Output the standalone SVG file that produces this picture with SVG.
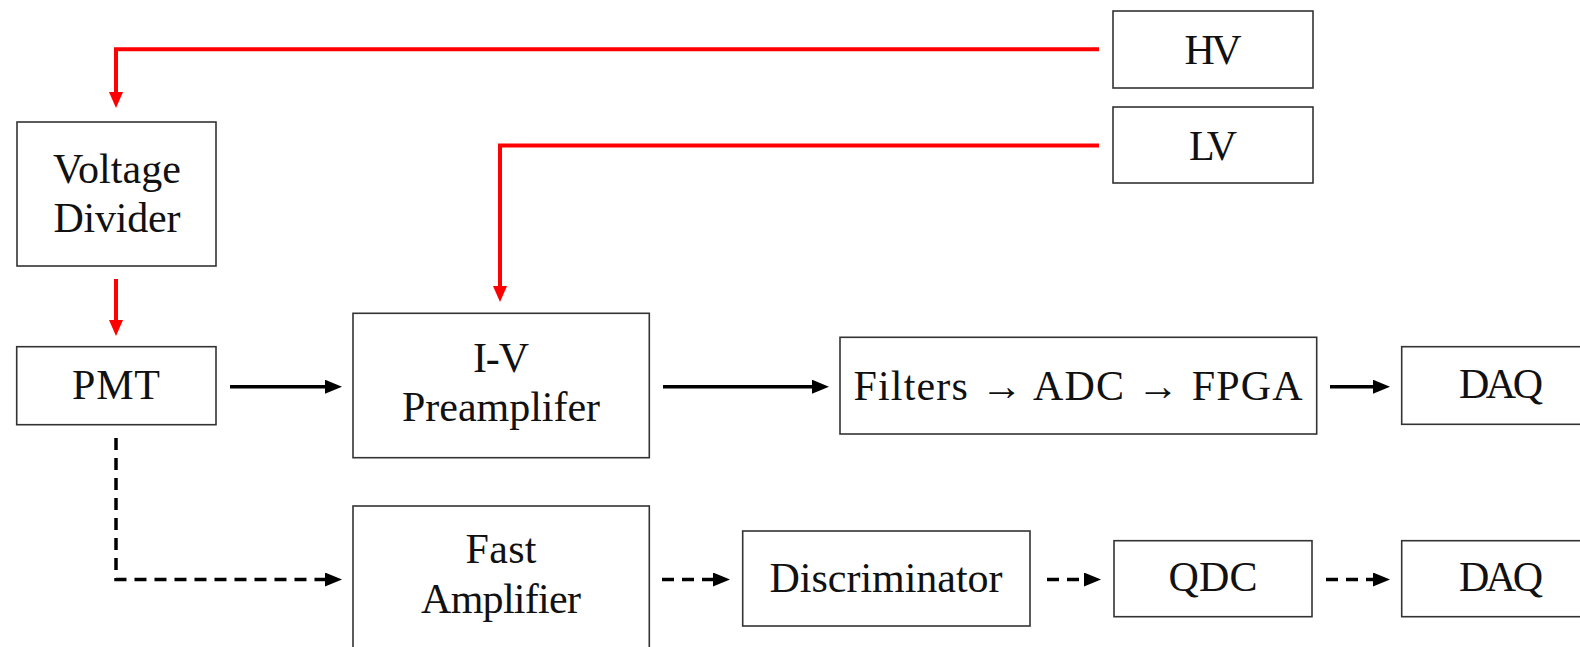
<svg xmlns="http://www.w3.org/2000/svg" width="1580" height="647" viewBox="0 0 1580 647">
  <style>
    .box { fill: #fff; stroke: #333; stroke-width: 1.6; }
    .lbl { font-family: "Liberation Serif", "DejaVu Serif", serif; font-size: 42px; fill: #111; text-anchor: middle; }
    .red { fill: none; stroke: #f00; stroke-width: 4; }
    .blk { fill: none; stroke: #000; stroke-width: 3.5; }
    .dash { fill: none; stroke: #000; stroke-width: 3.5; stroke-dasharray: 12 8; }
  </style>
  <defs>
    <marker id="ahRed" markerUnits="userSpaceOnUse" markerWidth="18" markerHeight="16" refX="4" refY="7" orient="auto">
      <path d="M0,0 L16,7 L0,14 z" fill="#f00"/>
    </marker>
    <marker id="ahBlk" markerUnits="userSpaceOnUse" markerWidth="20" markerHeight="16" refX="4" refY="7" orient="auto">
      <path d="M0,0 L17,7 L0,14 z" fill="#000"/>
    </marker>
  </defs>
  <rect width="1580" height="647" fill="#fff"/>

  <g id="connectors">
    <path class="red" d="M1099,49.3 H116 V96" marker-end="url(#ahRed)"/>
    <path class="red" d="M1099,145.5 H500 V290" marker-end="url(#ahRed)"/>
    <path class="red" d="M116,279 V324" marker-end="url(#ahRed)"/>
    <path class="blk" d="M230,386.7 H329" marker-end="url(#ahBlk)"/>
    <path class="blk" d="M663,386.7 H816" marker-end="url(#ahBlk)"/>
    <path class="blk" d="M1330,386.7 H1377" marker-end="url(#ahBlk)"/>
    <path class="dash" d="M116,438 V579.5 H329" marker-end="url(#ahBlk)"/>
    <path class="dash" d="M662,579.5 H717" marker-end="url(#ahBlk)"/>
    <path class="dash" d="M1047,579.5 H1088" marker-end="url(#ahBlk)"/>
    <path class="dash" d="M1326,579.5 H1377" marker-end="url(#ahBlk)"/>
  </g>

  <g id="hv">
    <rect class="box" x="1113" y="11" width="200" height="77"/>
    <text class="lbl" x="1213" y="64" textLength="57">HV</text>
  </g>
  <g id="lv">
    <rect class="box" x="1113" y="107" width="200" height="76"/>
    <text class="lbl" x="1213" y="159.5" textLength="48">LV</text>
  </g>
  <g id="voltage-divider">
    <rect class="box" x="17" y="122" width="199" height="144"/>
    <text class="lbl" x="117" y="182.7" textLength="128">Voltage</text>
    <text class="lbl" x="117" y="231.7" textLength="127">Divider</text>
  </g>
  <g id="pmt">
    <rect class="box" x="16.7" y="346.7" width="199.3" height="78"/>
    <text class="lbl" x="116" y="399" textLength="88">PMT</text>
  </g>
  <g id="iv-preamp">
    <rect class="box" x="353" y="313.3" width="296.3" height="144.4"/>
    <text class="lbl" x="501" y="371.7" textLength="56">I-V</text>
    <text class="lbl" x="501" y="420.5" textLength="198">Preamplifer</text>
  </g>
  <g id="filters-adc-fpga">
    <rect class="box" x="840" y="337.3" width="476.7" height="96.7"/>
    <text class="lbl" x="1078" y="400" textLength="449">Filters → ADC → FPGA</text>
  </g>
  <g id="daq-top">
    <rect class="box" x="1401.7" y="346.7" width="200" height="77.6"/>
    <text class="lbl" x="1501" y="398" textLength="84">DAQ</text>
  </g>
  <g id="fast-amplifier">
    <rect class="box" x="353" y="506" width="296.3" height="160"/>
    <text class="lbl" x="501" y="563.3" textLength="71">Fast</text>
    <text class="lbl" x="501" y="613.3" textLength="160">Amplifier</text>
  </g>
  <g id="discriminator">
    <rect class="box" x="742.7" y="531" width="287.3" height="95"/>
    <text class="lbl" x="886" y="591.5" textLength="233">Discriminator</text>
  </g>
  <g id="qdc">
    <rect class="box" x="1114" y="540.7" width="198" height="76"/>
    <text class="lbl" x="1213" y="591" textLength="89">QDC</text>
  </g>
  <g id="daq-bottom">
    <rect class="box" x="1401.7" y="540.7" width="200" height="76"/>
    <text class="lbl" x="1501" y="591" textLength="84">DAQ</text>
  </g>
</svg>
